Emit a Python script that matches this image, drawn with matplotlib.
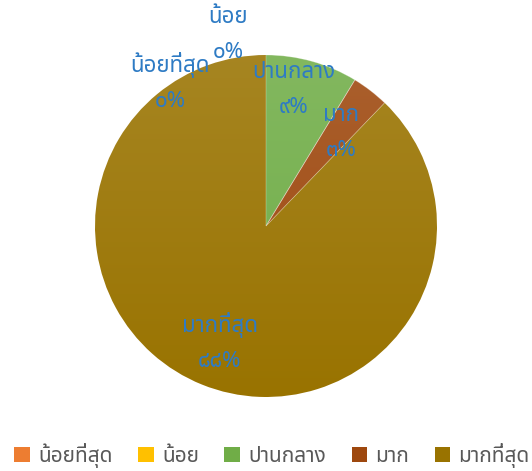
import matplotlib
matplotlib.use("Agg")
import numpy as np
import matplotlib.pyplot as plt
from matplotlib import font_manager as fm
from matplotlib.colors import LinearSegmentedColormap, to_rgb
from matplotlib.patches import Patch

# -------- Data --------
categories = ["น้อยที่สุด", "น้อย", "ปานกลาง", "มาก", "มากที่สุด"]
shares = [0.0, 0.0, 8.7, 3.5, 87.8]
pct_labels = [0, 0, 9, 3, 88]
colors = ["#ED7D31", "#FFC000", "#70AD47", "#9E480E", "#997300"]

# label positions in pixels (Excel "best fit" placement)
label_px = [(170, 82), (228, 35), (294, 90), (341, 133), (220, 342)]

# -------- Font with Thai glyphs --------
names = {f.name for f in fm.fontManager.ttflist}
thai_font = "DejaVu Sans"
for cand in ["Noto Sans Thai", "Noto Sans Thai UI", "IBM Plex Sans Thai", "Sarabun", "Prompt", "Kanit"]:
    if cand in names:
        thai_font = cand
        break
plt.rcParams["font.family"] = [thai_font, "DejaVu Sans"]

THAI_DIGITS = str.maketrans("0123456789", "๐๑๒๓๔๕๖๗๘๙")

W, H = 532, 471
CX, CY, R = 266, 226, 171

fig = plt.figure(figsize=(W / 100, H / 100), dpi=100)
ax = fig.add_axes([0, 0, 1, 1])

wedges, _ = ax.pie(shares, colors=colors, startangle=90, counterclock=False,
                   radius=1, center=(0, 0), frame=True,
                   wedgeprops=dict(edgecolor="none", linewidth=0))
ax.set_xlim(-CX / R, (W - CX) / R)
ax.set_ylim(-(H - CY) / R, CY / R)
ax.axis("off")

# light-to-dark vertical gradient on each wedge
grad = np.linspace(0, 1, 256).reshape(-1, 1)
for w, c, s in zip(wedges, colors, shares):
    if s == 0:
        continue
    base = np.array(to_rgb(c))
    light = base + (1 - base) * 0.13
    cmap = LinearSegmentedColormap.from_list("g", [light, base])
    im = ax.imshow(grad, cmap=cmap, extent=[-1, 1, -1, 1], origin="upper",
                   aspect="auto", zorder=2, interpolation="bilinear")
    im.set_clip_path(w)

# faint separators between visible slices
for w, s in zip(wedges, shares):
    w.set_zorder(3)
    w.set_facecolor("none")
    w.set_edgecolor((1, 1, 1, 0.3) if s > 0 and s < 50 else "none")
    w.set_linewidth(0.6)

for (px, py), cat, p in zip(label_px, categories, pct_labels):
    x = (px - CX) / R
    y = (CY - py) / R
    ax.text(x, y, f"{cat}\n{str(p).translate(THAI_DIGITS)}%", ha="center", va="center",
            color="#2E7BC4", fontsize=16, linespacing=1.85, zorder=5)

handles = [Patch(facecolor=c, edgecolor="none") for c in colors]
fig.legend(handles, categories, loc="center", bbox_to_anchor=(0.5 + 6 / W, 1 - 455 / H),
           ncol=5, frameon=False, fontsize=15, labelcolor="#595959",
           handlelength=0.75, handleheight=0.75, handletextpad=0.4, columnspacing=1.22)

fig.savefig("out.png", dpi=100)
